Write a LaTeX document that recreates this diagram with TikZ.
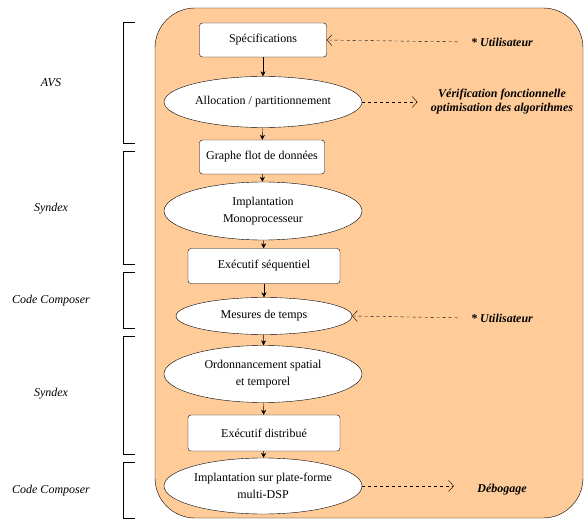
\documentclass[tikz,border=0pt]{standalone}
\usepackage{fontspec}
\setmainfont{Liberation Serif}
\usetikzlibrary{shapes.geometric}
\usetikzlibrary{arrows.meta}
\usetikzlibrary{positioning}

\definecolor{peche}{RGB}{255,204,153}

\begin{document}
\begin{tikzpicture}[x=1pt,y=-1pt,
        boite/.style={draw,rounded corners=3pt,fill=white,inner sep=0pt,
            minimum height=34pt,font=\fontsize{12}{14}\selectfont},
        bulle/.style={draw,ellipse,fill=white,inner sep=0pt,align=center,
            minimum width=198pt,font=\fontsize{12}{17}\selectfont},
        fleche/.style={-{Stealth[length=5pt,width=5pt]}},
        renvoi/.style={dashed,-{Straight Barb[length=5pt,width=11pt]}},
        outil/.style={font=\fontsize{12}{14}\selectfont\itshape},
        acteur/.style={font=\fontsize{12}{14}\selectfont\bfseries\itshape,align=center}]
    \useasboundingbox (0,0) rectangle (584,521);
    \filldraw[fill=peche,rounded corners=40pt] (155,8) rectangle (583,518);

    \draw (135,22) -| (123,143) -- (135,143);
    \draw (135,151) -| (123,264) -- (135,264);
    \draw (135,272) -| (123,328) -- (135,328);
    \draw (135,336) -| (123,454) -- (135,454);
    \draw (135,462) -| (123,518) -- (135,518);

    \node[outil] (avs) at (51,83) {AVS};
    \node[outil] (syndexa) at (51,209) {Syndex};
    \node[outil] (ccsa) at (51,301) {Code Composer};
    \node[outil] (syndexb) at (51,394) {Syndex};
    \node[outil] (ccsb) at (51,491) {Code Composer};

    \node[boite,minimum width=127pt] (spec) at (263,40) {Spécifications};
    \node[bulle,minimum height=51pt] (alloc) at (263,102) {Allocation / partitionnement};
    \node[boite,minimum width=125pt] (graphe) at (262,157) {Graphe flot de données};
    \node[bulle,minimum height=58pt] (mono) at (263,211) {Implantation\\Monoprocesseur};
    \node[boite,minimum width=152pt,minimum height=35pt] (seq) at (264,266) {Exécutif séquentiel};
    \node[bulle,minimum width=176pt,minimum height=37pt] (mesure) at (264,316) {Mesures de temps};
    \node[bulle,minimum height=57pt] (ordo) at (263,374) {Ordonnancement spatial\\et temporel};
    \node[boite,minimum width=152pt,minimum height=36pt] (distrib) at (264,433) {Exécutif distribué};
    \node[bulle,minimum height=56pt] (multi) at (263,486) {Implantation sur plate-forme\\multi-DSP};

    \draw[fleche] (spec) -- (alloc);
    \draw[fleche] (alloc) -- (graphe);
    \draw[fleche] (graphe) -- (mono);
    \draw[fleche] (mono) -- (seq);
    \draw[fleche] (seq) -- (mesure);
    \draw[fleche] (mesure) -- (ordo);
    \draw[fleche] (ordo) -- (distrib);
    \draw[fleche] (distrib) -- (multi);

    \node[acteur] (util) at (502,42) {* Utilisateur};
    \node[acteur] (verif) at (502,102) {Vérification fonctionnelle\\optimisation des algorithmes};
    \node[acteur] (utilb) at (502,318) {* Utilisateur};
    \node[acteur] (debog) at (502,490) {Débogage};

    \draw[renvoi,shorten <=10pt] (util.west) -- (spec.east);
    \draw[renvoi,shorten >=10pt] (alloc.east) -- (verif.west);
    \draw[renvoi,shorten <=10pt] (utilb.west) -- (mesure.east);
    \draw[renvoi,shorten >=20pt] (multi.east) -- (multi.east -| debog.west);
\end{tikzpicture}
\end{document}
